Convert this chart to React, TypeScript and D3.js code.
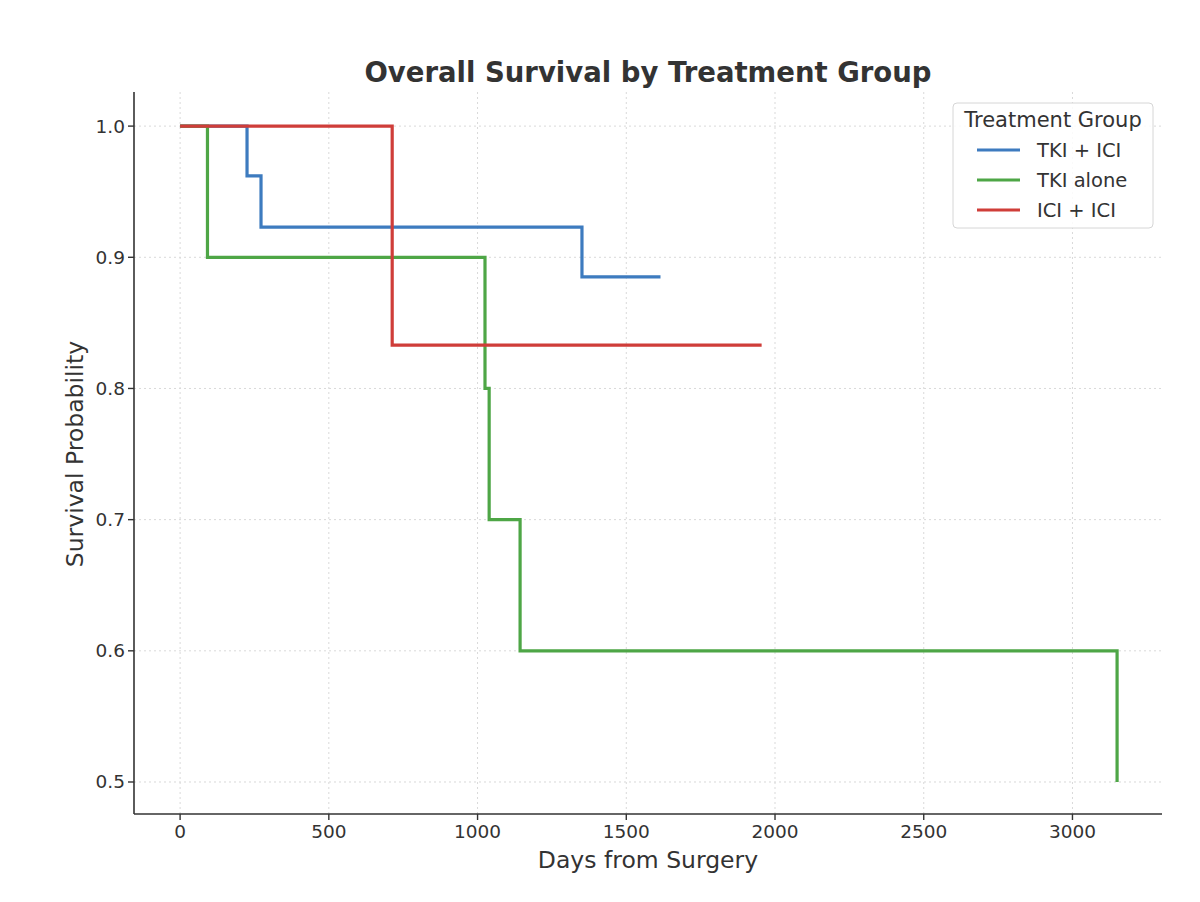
import React from 'react';
import * as d3 from 'd3';

// Kaplan-Meier step points per group: day of event and survival after it
const tkiIciDays = [0, 225, 272, 1351, 1615];
const tkiIciSurv = [1.0, 0.962, 0.923, 0.885, 0.885];

const tkiAloneDays = [0, 92, 1025, 1039, 1143, 3150];
const tkiAloneSurv = [1.0, 0.9, 0.8, 0.7, 0.6, 0.5];

const iciIciDays = [0, 713, 1955];
const iciIciSurv = [1.0, 0.833, 0.833];

const groupNames = ['TKI + ICI', 'TKI alone', 'ICI + ICI'];
const groupColors = ['#3d7bbf', '#4ea646', '#cf3d39'];

const xTicks = [0, 500, 1000, 1500, 2000, 2500, 3000];
const yTicks = [0.5, 0.6, 0.7, 0.8, 0.9, 1.0];

const W = 1200;
const H = 902;
const margin = { top: 92, right: 38, bottom: 88, left: 134 };
const FONT = 'DejaVu Sans, sans-serif';
const INK = '#333333';

export default function App() {
  const innerW = W - margin.left - margin.right;
  const innerH = H - margin.top - margin.bottom;

  const x = d3.scaleLinear().domain([-155, 3301]).range([0, innerW]);
  const y = d3.scaleLinear().domain([0.4756, 1.026]).range([innerH, 0]);

  const line = d3
    .line<[number, number]>()
    .x((d) => x(d[0]))
    .y((d) => y(d[1]))
    .curve(d3.curveStepAfter);

  const series = [
    d3.zip(tkiIciDays, tkiIciSurv) as [number, number][],
    d3.zip(tkiAloneDays, tkiAloneSurv) as [number, number][],
    d3.zip(iciIciDays, iciIciSurv) as [number, number][],
  ];

  const legendX = 953 - margin.left;
  const legendY = 103 - margin.top;

  return (
    <div style={{ position: 'fixed', left: 0, top: 0 }}>
      <svg width={W} height={H} style={{ display: 'block', background: '#fff' }}>
        <text
          x={margin.left + innerW / 2}
          y={82}
          textAnchor="middle"
          fontFamily={FONT}
          fontWeight="bold"
          fontSize={27.5}
          fill={INK}
        >
          Overall Survival by Treatment Group
        </text>

        <g transform={`translate(${margin.left},${margin.top})`}>
          {/* grid */}
          {xTicks.map((t) => (
            <line
              key={`gx${t}`}
              x1={x(t)}
              x2={x(t)}
              y1={0}
              y2={innerH}
              stroke="#d9d9d9"
              strokeWidth={1}
              strokeDasharray="2,3"
            />
          ))}
          {yTicks.map((t) => (
            <line
              key={`gy${t}`}
              x1={0}
              x2={innerW}
              y1={y(t)}
              y2={y(t)}
              stroke="#d9d9d9"
              strokeWidth={1}
              strokeDasharray="2,3"
            />
          ))}

          {/* survival curves */}
          {series.map((pts, i) => (
            <path
              key={groupNames[i]}
              d={line(pts) || ''}
              fill="none"
              stroke={groupColors[i]}
              strokeWidth={3.2}
            />
          ))}

          {/* spines */}
          <line x1={0} x2={0} y1={0} y2={innerH} stroke={INK} strokeWidth={1.6} />
          <line x1={0} x2={innerW} y1={innerH} y2={innerH} stroke={INK} strokeWidth={1.6} />

          {/* x ticks */}
          {xTicks.map((t) => (
            <g key={`tx${t}`} transform={`translate(${x(t)},${innerH})`}>
              <line y1={0} y2={6} stroke={INK} strokeWidth={1.4} />
              <text
                y={24}
                textAnchor="middle"
                fontFamily={FONT}
                fontSize={18.5}
                fill={INK}
              >
                {t}
              </text>
            </g>
          ))}

          {/* y ticks */}
          {yTicks.map((t) => (
            <g key={`ty${t}`} transform={`translate(0,${y(t)})`}>
              <line x1={0} x2={-6} stroke={INK} strokeWidth={1.4} />
              <text
                x={-9}
                dy="0.35em"
                textAnchor="end"
                fontFamily={FONT}
                fontSize={18.5}
                fill={INK}
              >
                {t.toFixed(1)}
              </text>
            </g>
          ))}

          <text
            x={innerW / 2}
            y={innerH + 54}
            textAnchor="middle"
            fontFamily={FONT}
            fontSize={23.5}
            fill={INK}
          >
            Days from Surgery
          </text>
          <text
            transform={`translate(${75 - margin.left},${innerH / 2 + 1}) rotate(-90)`}
            dy="0.35em"
            textAnchor="middle"
            fontFamily={FONT}
            fontSize={23.5}
            fill={INK}
          >
            Survival Probability
          </text>

          {/* legend */}
          <g transform={`translate(${legendX},${legendY})`}>
            <rect
              x={0}
              y={0}
              width={200}
              height={125}
              rx={4}
              fill="#fff"
              fillOpacity={0.85}
              stroke="#d6d6d6"
              strokeWidth={1}
            />
            <text
              x={100}
              y={24}
              textAnchor="middle"
              fontFamily={FONT}
              fontSize={21}
              fill={INK}
            >
              Treatment Group
            </text>
            {groupNames.map((name, i) => (
              <g key={name} transform={`translate(0,${47 + i * 30})`}>
                <line x1={24} x2={67} stroke={groupColors[i]} strokeWidth={3.2} />
                <text
                  x={84}
                  dy="0.35em"
                  fontFamily={FONT}
                  fontSize={19.5}
                  fill={INK}
                >
                  {name}
                </text>
              </g>
            ))}
          </g>
        </g>
      </svg>
    </div>
  );
}
